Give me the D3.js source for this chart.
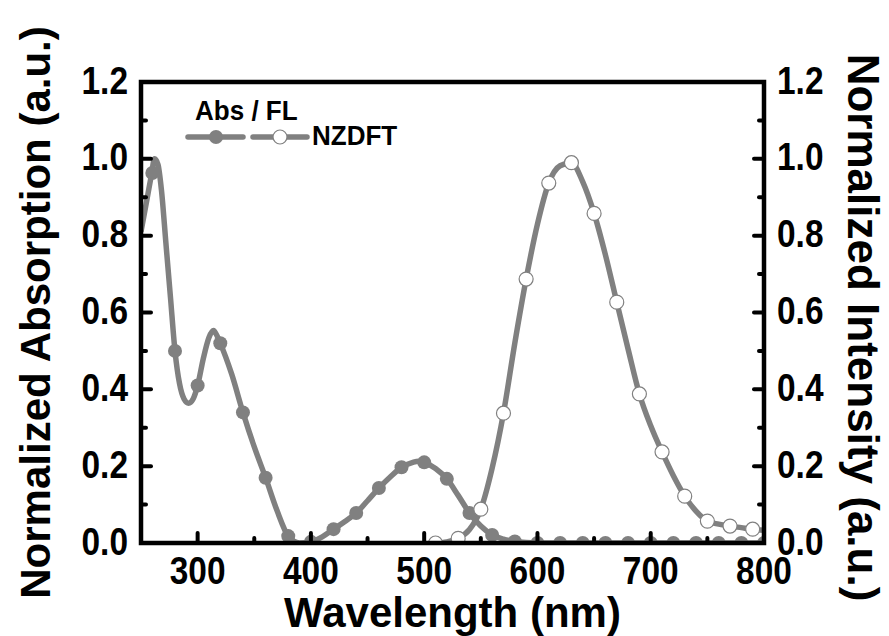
<!DOCTYPE html>
<html>
<head>
<meta charset="utf-8">
<script src="https://cdn.jsdelivr.net/npm/d3@7/dist/d3.min.js"></script>
<style>
  html, body { margin: 0; padding: 0; background: #fff; }
  svg { display: block; }
  text { font-family: "Liberation Sans", Arial, sans-serif; font-weight: bold; fill: #000; }
</style>
</head>
<body>
<svg id="chart" width="889" height="636"></svg>
<script>
// Absorption spectrum (normalized), wavelength in nm
const absWavelength = [250, 255, 259, 262, 265, 268, 272, 276, 280, 284, 288, 292, 296, 300, 305, 310, 314, 317, 320, 330, 340, 350, 360, 370, 380, 390, 400, 410, 420, 430, 440, 450, 460, 470, 480, 490, 495, 500, 510, 520, 530, 540, 550, 560, 570, 580, 590, 600, 620, 640, 660, 680, 700, 720, 740, 760, 780, 800];
const absValues     = [0.81, 0.89, 0.955, 1.0, 0.985, 0.92, 0.78, 0.64, 0.50, 0.415, 0.375, 0.364, 0.375, 0.41, 0.48, 0.535, 0.553, 0.54, 0.52, 0.44, 0.34, 0.25, 0.17, 0.085, 0.018, 0.0, 0.003, 0.016, 0.036, 0.056, 0.078, 0.11, 0.143, 0.172, 0.197, 0.21, 0.213, 0.21, 0.194, 0.167, 0.124, 0.078, 0.044, 0.021, 0.01, 0.004, 0.001, 0, 0, 0, 0, 0, 0, 0, 0, 0, 0, 0];
const absMarkerWl   = [260, 280, 300, 320, 340, 360, 380, 400, 420, 440, 460, 480, 500, 520, 540, 560, 580, 600, 620, 640, 660, 680, 700, 720, 740, 760, 780, 800];
const absMarkerVal  = [0.963, 0.50, 0.41, 0.52, 0.34, 0.17, 0.018, 0.003, 0.036, 0.078, 0.143, 0.197, 0.21, 0.167, 0.078, 0.021, 0.004, 0, 0, 0, 0, 0, 0, 0, 0, 0, 0, 0];

// Fluorescence spectrum (normalized)
const flWavelength = [510, 520, 530, 540, 550, 560, 570, 580, 590, 600, 610, 620, 630, 640, 650, 660, 670, 680, 690, 700, 710, 720, 730, 740, 750, 760, 770, 780, 790, 800];
const flValues     = [0.0, 0.003, 0.012, 0.035, 0.088, 0.195, 0.338, 0.52, 0.687, 0.83, 0.937, 0.982, 0.99, 0.94, 0.858, 0.75, 0.627, 0.505, 0.388, 0.305, 0.237, 0.175, 0.122, 0.083, 0.057, 0.049, 0.044, 0.04, 0.036, 0.033];
const flMarkerWl   = [510, 530, 550, 570, 590, 610, 630, 650, 670, 690, 710, 730, 750, 770, 790];
const flMarkerVal  = [0.0, 0.012, 0.088, 0.338, 0.687, 0.937, 0.99, 0.858, 0.627, 0.388, 0.237, 0.122, 0.057, 0.044, 0.036];

const xMajorTicks = [300, 400, 500, 600, 700, 800];
const xMinorTicks = [350, 450, 550, 650, 750];
const yMajorTicks = [0.0, 0.2, 0.4, 0.6, 0.8, 1.0, 1.2];
const yMinorTicks = [0.1, 0.3, 0.5, 0.7, 0.9, 1.1];

const seriesName = "NZDFT";
const legendTitle = "Abs / FL";
const xTitle = "Wavelength (nm)";
const yTitleLeft = "Normalized Absorption (a.u.)";
const yTitleRight = "Normalized Intensity (a.u.)";

const grey = "#808080";
const frameL = 141, frameR = 764, frameT = 82, frameB = 543;

const svg = d3.select("#chart");
const x = d3.scaleLinear().domain([250, 800]).range([frameL, frameR]);
const y = d3.scaleLinear().domain([0, 1.2]).range([frameB, frameT]);

svg.append("defs").append("clipPath").attr("id", "plotClip")
  .append("rect").attr("x", frameL).attr("y", frameT)
  .attr("width", frameR - frameL).attr("height", frameB - frameT);

const plot = svg.append("g").attr("clip-path", "url(#plotClip)");

const line = d3.line().x(d => x(d[0])).y(d => y(d[1])).curve(d3.curveMonotoneX);

// absorption
plot.append("path")
  .datum(d3.zip(absWavelength, absValues))
  .attr("d", line).attr("fill", "none")
  .attr("stroke", grey).attr("stroke-width", 5.5).attr("stroke-linejoin", "round");
plot.selectAll("circle.abs").data(d3.zip(absMarkerWl, absMarkerVal)).join("circle")
  .attr("class", "abs").attr("cx", d => x(d[0])).attr("cy", d => y(d[1]))
  .attr("r", 7).attr("fill", grey);

// fluorescence
plot.append("path")
  .datum(d3.zip(flWavelength, flValues))
  .attr("d", line).attr("fill", "none")
  .attr("stroke", grey).attr("stroke-width", 5.5).attr("stroke-linejoin", "round");
plot.selectAll("circle.fl").data(d3.zip(flMarkerWl, flMarkerVal)).join("circle")
  .attr("class", "fl").attr("cx", d => x(d[0])).attr("cy", d => y(d[1]))
  .attr("r", 7).attr("fill", "#fff").attr("stroke", grey).attr("stroke-width", 1.2);

// frame
svg.append("rect").attr("x", frameL).attr("y", frameT)
  .attr("width", frameR - frameL).attr("height", frameB - frameT)
  .attr("fill", "none").attr("stroke", "#000").attr("stroke-width", 4.5);

// ticks (inward)
const tickG = svg.append("g").attr("stroke", "#000").attr("stroke-width", 4).attr("stroke-linecap", "round");
xMajorTicks.forEach(t => tickG.append("line").attr("x1", x(t)).attr("x2", x(t)).attr("y1", frameB).attr("y2", frameB - 10));
xMinorTicks.forEach(t => tickG.append("line").attr("x1", x(t)).attr("x2", x(t)).attr("y1", frameB).attr("y2", frameB - 5));
yMajorTicks.forEach(t => {
  tickG.append("line").attr("x1", frameL).attr("x2", frameL + 10).attr("y1", y(t)).attr("y2", y(t));
  tickG.append("line").attr("x1", frameR).attr("x2", frameR - 10).attr("y1", y(t)).attr("y2", y(t));
});
yMinorTicks.forEach(t => {
  tickG.append("line").attr("x1", frameL).attr("x2", frameL + 5).attr("y1", y(t)).attr("y2", y(t));
  tickG.append("line").attr("x1", frameR).attr("x2", frameR - 5).attr("y1", y(t)).attr("y2", y(t));
});

// tick labels
const narrow = 0.88;
const fmt = d3.format(".1f");
xMajorTicks.forEach(t => svg.append("text")
  .attr("transform", `translate(${x(t)},584) scale(${narrow},1)`)
  .attr("text-anchor", "middle").attr("font-size", 38).text(t));
yMajorTicks.forEach(t => {
  svg.append("text")
    .attr("transform", `translate(128,${y(t) + 11.5}) scale(${narrow},1)`)
    .attr("text-anchor", "end").attr("font-size", 38).text(fmt(t));
  svg.append("text")
    .attr("transform", `translate(777,${y(t) + 11.5}) scale(${narrow},1)`)
    .attr("text-anchor", "start").attr("font-size", 38).text(fmt(t));
});

// axis titles
svg.append("text").attr("transform", `translate(${(frameL + frameR) / 2},627)`)
  .attr("text-anchor", "middle").attr("font-size", 42).text(xTitle);
svg.append("text").attr("transform", `translate(50,${(frameT + frameB) / 2}) rotate(-90)`)
  .attr("text-anchor", "middle").attr("font-size", 42).text(yTitleLeft);
svg.append("text").attr("transform", `translate(848,${(frameT + frameB) / 2 + 15}) rotate(90)`)
  .attr("text-anchor", "middle").attr("font-size", 44).text(yTitleRight);

// legend
const lg = svg.append("g");
lg.append("text").attr("transform", "translate(195,120) scale(0.93,1)")
  .attr("font-size", 28).text(legendTitle);
lg.append("line").attr("x1", 188).attr("x2", 243).attr("y1", 137).attr("y2", 137)
  .attr("stroke", grey).attr("stroke-width", 5.5).attr("stroke-linecap", "round");
lg.append("circle").attr("cx", 216).attr("cy", 137).attr("r", 7).attr("fill", grey);
lg.append("line").attr("x1", 253).attr("x2", 307).attr("y1", 137).attr("y2", 137)
  .attr("stroke", grey).attr("stroke-width", 5.5).attr("stroke-linecap", "round");
lg.append("circle").attr("cx", 280).attr("cy", 137).attr("r", 7)
  .attr("fill", "#fff").attr("stroke", grey).attr("stroke-width", 1.2);
lg.append("text").attr("transform", "translate(312,145) scale(0.93,1)")
  .attr("font-size", 28).text(seriesName);
</script>
</body>
</html>
